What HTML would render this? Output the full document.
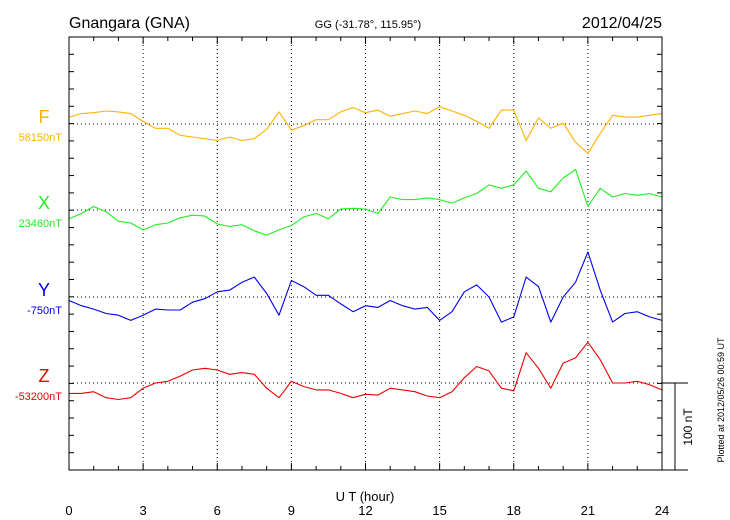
<!DOCTYPE html>
<html><head><meta charset="utf-8"><style>
html,body{margin:0;padding:0;background:#fff;}
svg{display:block;font-family:"Liberation Sans",sans-serif;}
</style></head><body>
<svg id="chart" width="730" height="520" viewBox="0 0 730 520">
<text x="69" y="28" font-size="16">Gnangara (GNA)</text>
<text x="368" y="28" font-size="11" text-anchor="middle">GG (-31.78°, 115.95°)</text>
<text x="662" y="28" font-size="16" text-anchor="end">2012/04/25</text>
<g id="grid"></g>
<g id="series"></g>
<rect x="69" y="37" width="593" height="433" fill="none" stroke="#000" stroke-width="1"/>
<g id="axes"></g>
<text x="365" y="501" font-size="13" text-anchor="middle">U T (hour)</text>
<g>
<line x1="662" y1="383" x2="688" y2="383" stroke="#000"/>
<line x1="675" y1="383" x2="675" y2="470" stroke="#000"/>
<line x1="662" y1="470" x2="688" y2="470" stroke="#000"/>
<text transform="translate(692,427) rotate(-90)" font-size="12" text-anchor="middle">100 nT</text>
</g>
<text transform="translate(724,400) rotate(-90)" font-size="9" text-anchor="middle">Plotted at 2012/05/26 00:59 UT</text>
</svg>
<script>
const hours = [0,0.5,1,1.5,2,2.5,3,3.5,4,4.5,5,5.5,6,6.5,7,7.5,8,8.5,9,9.5,10,10.5,11,11.5,12,12.5,13,13.5,14,14.5,15,15.5,16,16.5,17,17.5,18,18.5,19,19.5,20,20.5,21,21.5,22,22.5,23,23.5,24];
const fValues = [8,12,13,15,14,12,3,-5,-5,-13,-15,-17,-19,-15,-19,-17,-6,14,-7,-2,5,5,14,19,13,16,9,12,15,12,20,15,10,3,-5,16,16,-19,7,-5,1,-21,-34,-11,10,8,8,10,12];
const xValues = [-10,-4,4,-2,-13,-15,-23,-17,-15,-9,-6,-7,-16,-19,-17,-24,-29,-23,-18,-8,-4,-10,1,2,1,-4,15,12,12,14,12,8,14,19,29,25,29,45,25,21,37,47,4,25,15,19,17,19,15];
const yValues = [-4,-10,-14,-19,-21,-27,-21,-14,-15,-15,-6,-2,6,8,17,23,4,-21,19,12,2,2,-8,-17,-10,-12,-4,-10,-14,-12,-27,-17,6,14,0,-29,-23,23,12,-29,0,17,52,8,-29,-19,-17,-23,-27];
const zValues = [-12,-12,-10,-17,-19,-17,-6,0,2,8,15,17,15,10,12,10,-6,-17,2,-4,-8,-8,-12,-17,-13,-14,-6,-8,-10,-15,-17,-10,6,19,14,-6,-9,35,17,-6,23,29,47,27,0,0,2,-2,-8];
const componentNames = ["F","X","Y","Z"];
const baselineLabels = ["58150nT","23460nT","-750nT","-53200nT"];
const xTickLabels = [0,3,6,9,12,15,18,21,24];

const NS="http://www.w3.org/2000/svg";
const L=69,R=662,T=37,B=470;
const xs=h=>L+h*(R-L)/24;
const pxPerNT=0.866;
const bases=[124,210,297,383];
const colors=["#ffb300","#22ee22","#0000ee","#ee0000"];
const allSeries=[fValues,xValues,yValues,zValues];
function mk(tag,attrs,parent){const e=document.createElementNS(NS,tag);for(const k in attrs)e.setAttribute(k,attrs[k]);parent.appendChild(e);return e;}
const grid=document.getElementById('grid'),axes=document.getElementById('axes'),sg=document.getElementById('series');
xTickLabels.forEach(h=>{
  if(h>0&&h<24){const l=mk('line',{x1:xs(h),y1:T,x2:xs(h),y2:B,stroke:'#000','stroke-dasharray':'1,3'},grid);
  
  }
  const t=mk('text',{x:xs(h),y:515,'font-size':13,'text-anchor':'middle'},axes);t.textContent=h;
  
  
});
for(let h=0;h<=24;h++){
  const len=(h%3===0)?7:4;
  const a=mk('line',{x1:xs(h),y1:B,x2:xs(h),y2:B-len,stroke:'#000'},axes);
  
  
  const b=mk('line',{x1:xs(h),y1:T,x2:xs(h),y2:T+len,stroke:'#000'},axes);
  
  
}
for(let k=0;k<=25;k++){
  const y=T+k*(B-T)/25;
  const a=mk('line',{x1:L,y1:y,x2:L+5,y2:y,stroke:'#000'},axes);
  
  
  const b=mk('line',{x1:R,y1:y,x2:R-5,y2:y,stroke:'#000'},axes);
  
  
}
allSeries.forEach((vals,i)=>{
  const base=bases[i];
  const g=mk('line',{x1:L,y1:base,x2:R,y2:base,stroke:'#000','stroke-dasharray':'1,3'},grid);
  
  
  const d=vals.map((v,j)=>(j?'L':'M')+xs(hours[j]).toFixed(1)+','+(base-v*pxPerNT).toFixed(1)).join('');
  const p=mk('path',{d:d,fill:'none',stroke:colors[i],'stroke-width':1.1,'stroke-linejoin':'round'},sg);
  
  
  const n=mk('text',{x:44,y:base-1,'font-size':18,'text-anchor':'middle',fill:colors[i]},axes);n.textContent=componentNames[i];
  
  
  const b=mk('text',{x:62,y:base+17,'font-size':11,'text-anchor':'end',fill:colors[i]},axes);b.textContent=baselineLabels[i];
  
  
});
</script>
</body></html>
